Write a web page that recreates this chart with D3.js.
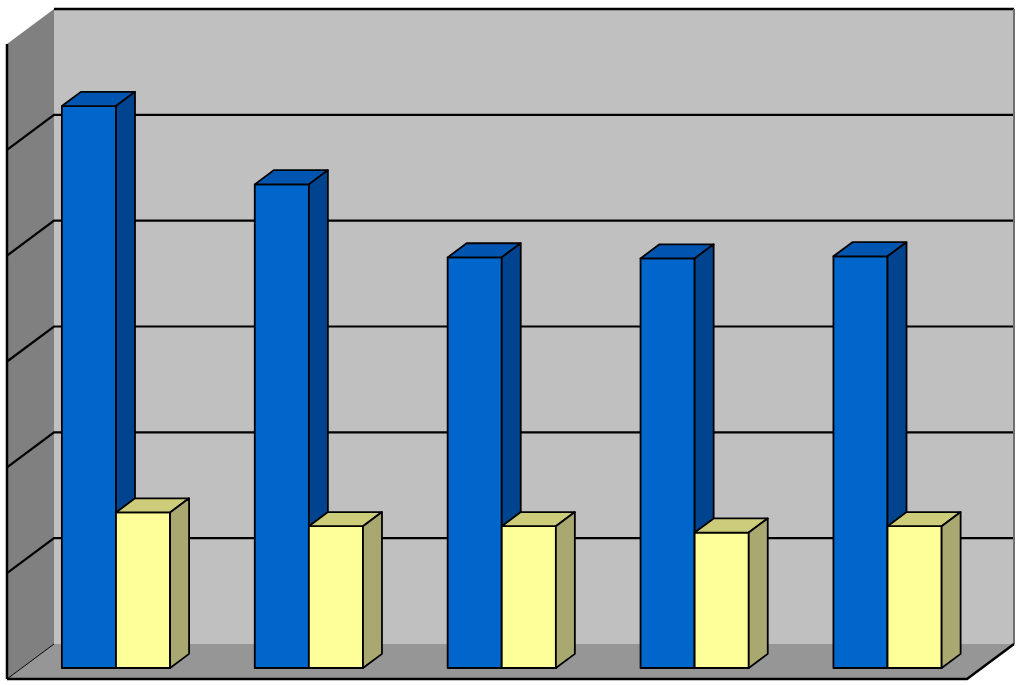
<!DOCTYPE html>
<html>
<head>
<meta charset="utf-8">
<script src="https://cdn.jsdelivr.net/npm/d3@7"></script>
<style>
  html, body { margin: 0; padding: 0; background: #fff; }
  svg { display: block; }
</style>
</head>
<body>
<div id="chart"></div>
<script>
// data (no labels are shown in the original)
const categories = ['1', '2', '3', '4', '5'];
const seriesNames = ['Series A', 'Series B'];
const seriesA = [5.31, 4.57, 3.88, 3.87, 3.89];
const seriesB = [1.47, 1.34, 1.34, 1.28, 1.34];
const valueTicks = [1, 2, 3, 4, 5];

const width = 1024, height = 685;
// back wall box
const wall = { left: 54, right: 1014, top: 9, bottom: 644 };
// depth offset from back (z=0) to front (z=1)
const depth = { dx: -47, dy: 35 };
const barZ = { back: 0.282, front: 0.686 };

const svg = d3.select('#chart')
  .append('svg')
  .attr('width', width)
  .attr('height', height);

const x = d3.scaleBand()
  .domain(categories)
  .range([wall.left, wall.right])
  .paddingInner(0.439)
  .paddingOuter(0.208);

const xSub = d3.scaleBand()
  .domain(seriesNames)
  .range([0, x.bandwidth()]);

const y = d3.scaleLinear()
  .domain([0, 6])
  .range([wall.bottom, wall.top]);

// project a point (wall x, value, depth z) to the screen
function proj(px, v, z) {
  return [px + depth.dx * z, y(v) + depth.dy * z];
}
const poly = pts => 'M' + pts.map(p => p.join(',')).join('L') + 'Z';

// walls
svg.append('path') // side wall
  .attr('d', poly([proj(wall.left, 6, 0), proj(wall.left, 0, 0), proj(wall.left, 0, 1), proj(wall.left, 6, 1)]))
  .attr('fill', '#808080');

svg.append('path') // floor
  .attr('d', poly([proj(wall.left, 0, 0), proj(wall.right, 0, 0), proj(wall.right, 0, 1), proj(wall.left, 0, 1)]))
  .attr('fill', '#969696');

svg.append('rect') // back wall
  .attr('x', wall.left)
  .attr('y', wall.top)
  .attr('width', wall.right - wall.left)
  .attr('height', wall.bottom - wall.top)
  .attr('fill', '#c0c0c0');

// grid lines on back wall and side wall
const grid = svg.append('g')
  .attr('fill', 'none')
  .attr('stroke', '#000')
  .attr('stroke-width', 2.2);

grid.selectAll('path.grid')
  .data(valueTicks)
  .join('path')
  .attr('class', 'grid')
  .attr('d', d => 'M' + [proj(wall.left, d, 1), proj(wall.left, d, 0), proj(wall.right, d, 0)].map(p => p.join(',')).join('L'));

// wall edges
svg.append('line')
  .attr('x1', wall.left).attr('y1', wall.top)
  .attr('x2', wall.right).attr('y2', wall.top)
  .attr('stroke', '#000').attr('stroke-width', 2.5);

svg.append('line')
  .attr('x1', wall.right).attr('y1', wall.top)
  .attr('x2', wall.right).attr('y2', wall.bottom)
  .attr('stroke', '#707070').attr('stroke-width', 2);

const sideTop = proj(wall.left, 6, 1), sideBot = proj(wall.left, 0, 1);
svg.append('line')
  .attr('x1', sideTop[0]).attr('y1', sideTop[1])
  .attr('x2', sideBot[0]).attr('y2', sideBot[1])
  .attr('stroke', '#000').attr('stroke-width', 2.5);

svg.append('path')
  .attr('d', 'M' + [proj(wall.left, 0, 0), proj(wall.left, 0, 1)].map(p => p.join(',')).join('L'))
  .attr('stroke', '#000').attr('stroke-width', 1);

svg.append('path')
  .attr('d', 'M' + [proj(wall.left, 0, 1), proj(wall.right, 0, 1), proj(wall.right, 0, 0)].map(p => p.join(',')).join('L'))
  .attr('fill', 'none')
  .attr('stroke', '#000').attr('stroke-width', 2.5);

// bars
const colors = {
  'Series A': { front: '#0066cc', top: '#0055b0', side: '#00448f' },
  'Series B': { front: '#ffff99', top: '#cccc7a', side: '#a8a870' }
};

const barData = [];
categories.forEach((c, i) => {
  barData.push({ cat: c, series: 'Series A', value: seriesA[i] });
  barData.push({ cat: c, series: 'Series B', value: seriesB[i] });
});

const bars = svg.append('g')
  .selectAll('g.bar')
  .data(barData)
  .join('g')
  .attr('class', 'bar')
  .attr('stroke', '#000')
  .attr('stroke-width', 1.8)
  .attr('stroke-linejoin', 'round');

const x0 = d => x(d.cat) + xSub(d.series);
const x1 = d => x0(d) + xSub.bandwidth();

bars.append('path') // front face
  .attr('fill', d => colors[d.series].front)
  .attr('d', d => poly([
    proj(x0(d), 0, barZ.front), proj(x1(d), 0, barZ.front),
    proj(x1(d), d.value, barZ.front), proj(x0(d), d.value, barZ.front)]));

bars.append('path') // top face
  .attr('fill', d => colors[d.series].top)
  .attr('d', d => poly([
    proj(x0(d), d.value, barZ.front), proj(x1(d), d.value, barZ.front),
    proj(x1(d), d.value, barZ.back), proj(x0(d), d.value, barZ.back)]));

bars.append('path') // side face
  .attr('fill', d => colors[d.series].side)
  .attr('d', d => poly([
    proj(x1(d), 0, barZ.front), proj(x1(d), 0, barZ.back),
    proj(x1(d), d.value, barZ.back), proj(x1(d), d.value, barZ.front)]));
</script>
</body>
</html>
